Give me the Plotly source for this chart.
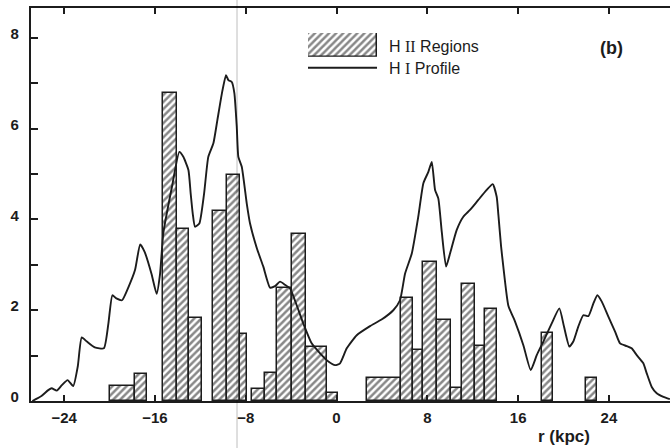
import plotly.graph_objects as go

# H II region counts per radial bin (bin edges in kpc)
hii_left = [-19.96, -17.75, -15.26, -14.08, -12.96, -10.91, -9.67, -8.50,
            -7.47, -6.30, -5.27, -3.95, -2.69, -0.86,
            2.66, 5.66, 6.77, 7.65, 8.83, 10.06, 11.09, 12.20, 13.08,
            18.08, 21.98]
hii_right = [-17.75, -16.72, -14.08, -12.96, -11.88, -9.67, -8.50, -7.91,
             -6.30, -5.27, -3.95, -2.69, -0.86, 0.16,
             5.66, 6.77, 7.65, 8.83, 10.06, 11.09, 12.20, 13.08, 14.17,
             19.10, 22.98]
hii_count = [0.33, 0.59, 6.79, 3.78, 1.84, 4.19, 4.98, 1.48,
             0.26, 0.61, 2.48, 3.69, 1.20, 0.18,
             0.50, 2.26, 1.12, 3.07, 1.78, 0.28, 2.57, 1.21, 2.02,
             1.49, 0.50]

# H I surface density profile along the major axis
hi_r = [-26.8, -26.0, -25.4, -25.1, -24.65, -24.2, -23.7, -23.2, -22.8, -22.45,
        -22.0, -21.3, -20.5, -20.1, -19.75, -19.4, -18.9, -18.35, -17.75, -17.3,
        -16.9, -16.3, -15.85, -15.55, -15.26, -14.5, -13.85, -13.5, -13.05, -12.85,
        -12.67, -12.47, -12.09, -11.67, -11.3, -10.85, -10.5, -10.1, -9.74, -9.53,
        -9.23, -9.0, -8.79, -8.65, -8.35, -7.91, -7.62, -7.0, -6.45, -5.86,
        -5.42, -4.98, -4.54, -4.10, -3.51, -2.93, -2.19, -1.45, -0.72, -0.13,
        0.31, 0.9, 1.78, 2.95, 4.0, 5.0, 5.59, 6.04, 6.63, 7.2,
        7.65, 8.09, 8.39, 8.68, 8.97, 9.27, 9.65, 10.0, 10.59, 11.17,
        11.76, 12.49, 13.23, 13.76, 14.11, 14.26, 14.5, 14.7, 15.14, 15.73,
        16.46, 17.11, 17.64, 18.22, 18.96, 19.63, 20.04, 20.51, 20.86, 21.3,
        21.74, 22.19, 22.63, 22.98, 23.37, 23.95, 24.54, 24.98, 25.57, 26.0,
        26.45, 27.03, 27.33, 27.77, 28.21, 28.8, 29.37]
hi_val = [0.0, 0.11, 0.24, 0.28, 0.23, 0.35, 0.46, 0.33, 0.76, 1.40,
          1.31, 1.18, 1.16, 1.71, 2.33, 2.26, 2.22, 2.50, 2.89, 3.45,
          3.28, 2.80, 2.36, 2.80, 3.70, 4.72, 5.49, 5.38, 5.09, 4.57,
          4.13, 3.84, 3.91, 4.57, 5.38, 5.68, 6.19, 6.78, 7.18, 7.07,
          7.03, 6.78, 6.04, 5.38, 5.16, 4.35, 3.91, 3.35, 2.96, 2.50,
          2.53, 2.63, 2.56, 2.48, 2.11, 1.71, 1.27, 1.05, 0.87, 0.79,
          0.83, 1.16, 1.45, 1.65, 1.80, 2.00, 2.22, 2.81, 3.25, 4.06,
          4.80, 5.05, 5.27, 4.65, 4.46, 3.73, 2.96, 3.25, 3.77, 4.06,
          4.21, 4.43, 4.65, 4.78, 4.50, 4.10, 3.40, 2.95, 2.10, 1.75,
          1.23, 0.68, 1.01, 1.31, 1.71, 2.04, 1.64, 1.20, 1.31, 1.64,
          1.89, 1.87, 2.15, 2.33, 2.19, 1.86, 1.53, 1.27, 1.21, 1.16,
          1.01, 0.83, 0.61, 0.31, 0.17, 0.09, 0.04]

x_ticks = [-24, -16, -8, 0, 8, 16, 24]
x_tick_text = ["\u221224", "\u221216", "\u22128", "0", "8", "16", "24"]
y_ticks = [0, 1, 2, 3, 4, 5, 6, 7, 8]
y_tick_text = ["0", "", "2", "", "4", "", "6", "", "8"]

INK = "#1c1c1c"
FONT = "Liberation Sans"
SERIF = "Liberation Serif"

centers = [(a + b) / 2 for a, b in zip(hii_left, hii_right)]
widths = [b - a for a, b in zip(hii_left, hii_right)]

hatch = dict(shape="/", fgcolor="#111111", bgcolor="white",
             size=5, solidity=0.5)

fig = go.Figure()

fig.add_trace(go.Bar(
    x=centers, y=hii_count, width=widths,
    marker=dict(color="white", pattern=hatch,
                line=dict(color=INK, width=1.5)),
    showlegend=False, hoverinfo="skip",
))

fig.add_trace(go.Scatter(
    x=hi_r, y=hi_val, mode="lines",
    line=dict(color=INK, width=1.9, shape="spline", smoothing=0.5),
    showlegend=False, hoverinfo="skip",
))

# key swatch for the hatched bars, drawn on its own small axes
fig.add_trace(go.Bar(
    x=[0], y=[1], width=[1], xaxis="x2", yaxis="y2",
    marker=dict(color="white", pattern=hatch,
                line=dict(color=INK, width=1.5)),
    showlegend=False, hoverinfo="skip",
))


def roman(numeral):
    return f"<span style=\"font-family:'{SERIF}'\">{numeral}</span>"


fig.update_layout(
    width=670, height=448,
    margin=dict(l=31, r=0, t=8, b=47),
    paper_bgcolor="white", plot_bgcolor="white",
    bargap=0,
    font=dict(family=FONT, color=INK, size=15),
    xaxis=dict(
        range=[-26.92, 29.38], showgrid=False, zeroline=False,
        showline=True, linecolor=INK, linewidth=2.2, mirror="ticks",
        ticks="inside", ticklen=6, tickwidth=1.6, tickcolor=INK,
        tickvals=x_ticks, ticktext=x_tick_text,
        tickfont=dict(size=15, family=FONT, color=INK, weight="bold"),
        ticklabelstandoff=2,
    ),
    yaxis=dict(
        range=[0, 8.66], showgrid=False, zeroline=False,
        showline=True, linecolor=INK, linewidth=2.2,
        ticks="inside", ticklen=7, tickwidth=1.6, tickcolor=INK,
        tickvals=y_ticks, ticktext=y_tick_text,
        tickfont=dict(size=15, family=FONT, color=INK, weight="bold"),
        ticklabelstandoff=7, ticklabelshift=-4,
    ),
    xaxis2=dict(domain=[0.4335, 0.5415], anchor="y2", range=[-0.5, 0.5],
                visible=False, fixedrange=True),
    yaxis2=dict(domain=[0.876, 0.9364], anchor="x2", range=[0, 1],
                visible=False, fixedrange=True),
    shapes=[
        # key line for the H I profile
        dict(type="line", xref="paper", yref="paper",
             x0=0.4335, x1=0.5415, y0=0.848, y1=0.848,
             line=dict(color=INK, width=1.9)),
        # faint crease running down the sheet
        dict(type="line", xref="paper", yref="paper",
             x0=0.3224, x1=0.3224, y0=-0.13, y1=1.03,
             line=dict(color="rgba(0,0,0,0.13)", width=2), layer="above"),
    ],
    annotations=[
        dict(text=f"H {roman('II')} Regions", xref="paper", yref="paper",
             x=0.557, y=0.9015, xanchor="left", yanchor="middle",
             showarrow=False, font=dict(size=16, family=FONT, color=INK)),
        dict(text=f"H {roman('I')} Profile", xref="paper", yref="paper",
             x=0.557, y=0.845, xanchor="left", yanchor="middle",
             showarrow=False, font=dict(size=16, family=FONT, color=INK)),
        dict(text="(b)", xref="paper", yref="paper",
             x=0.9077, y=0.898, xanchor="center", yanchor="middle",
             showarrow=False,
             font=dict(size=18, family=FONT, color=INK, weight="bold")),
        dict(text="r (kpc)", xref="paper", yref="paper",
             x=0.834, y=-0.0916, xanchor="center", yanchor="middle",
             showarrow=False,
             font=dict(size=17, family=FONT, color=INK, weight="bold")),
    ],
)

fig.write_html("out.html")
